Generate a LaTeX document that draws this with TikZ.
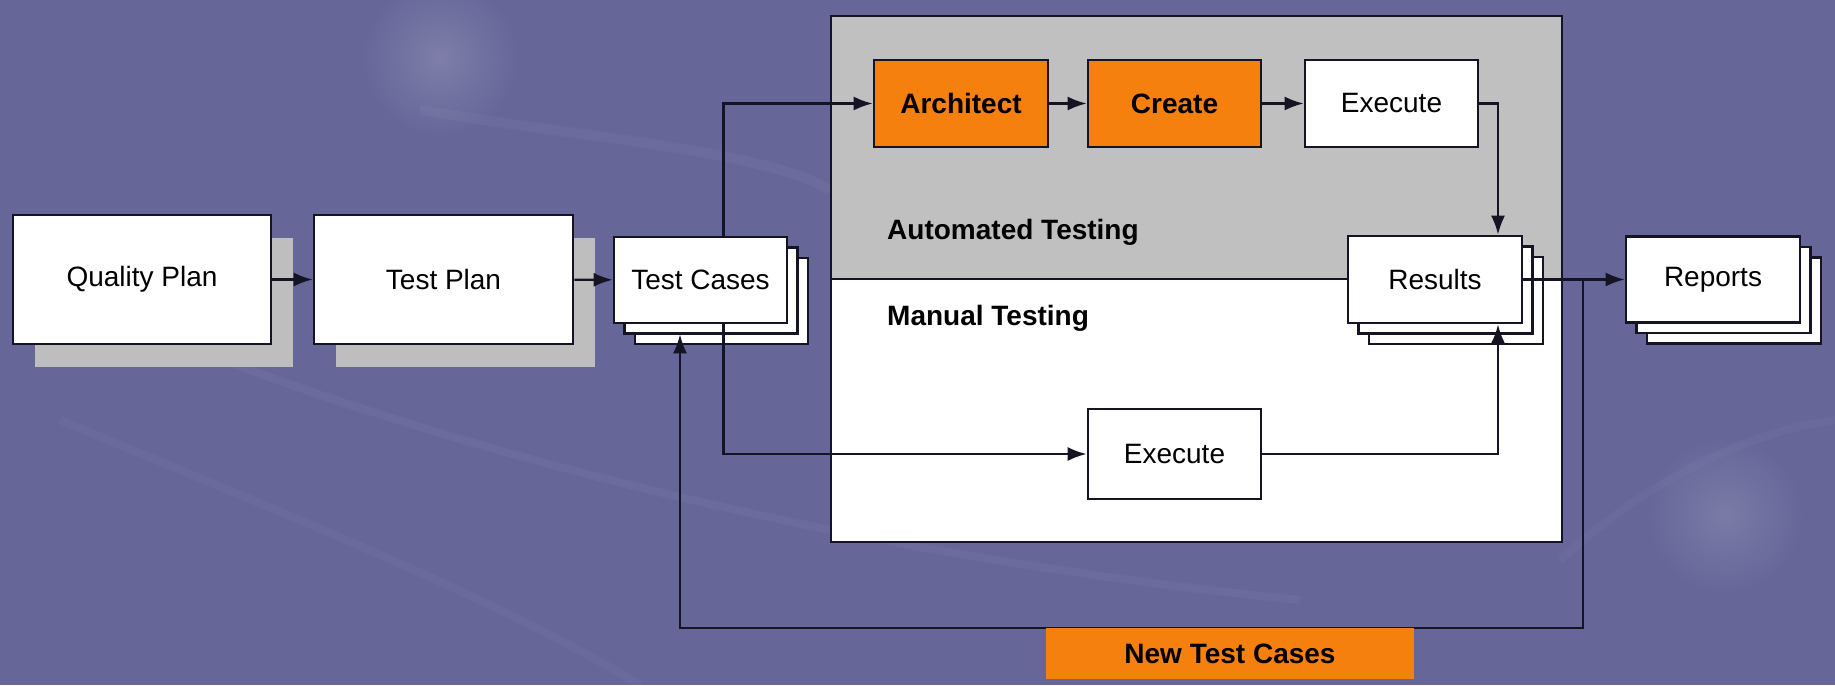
\documentclass[tikz,border=0pt]{standalone}
\usepackage{fontspec}
\setmainfont{Liberation Sans}
\usetikzlibrary{arrows.meta,shadows}
\definecolor{bgblue}{RGB}{102,102,153}
\definecolor{panelgray}{RGB}{192,192,192}
\definecolor{shgray}{RGB}{190,190,190}
\definecolor{hiorange}{RGB}{246,128,14}
\definecolor{linec}{RGB}{20,20,36}
\newcommand{\lbl}{\fontsize{28}{32}\selectfont}
\tikzset{
  box/.style={draw=linec, line width=2.6pt, fill=white, inner sep=0pt,
    font=\lbl, text=black},
  hot/.style={box, fill=hiorange, font=\lbl\bfseries},
  flat/.style={general shadow={fill=shgray, shadow xshift=22pt, shadow yshift=-23pt}},
  stack/.style={
    copy shadow={shadow xshift=21pt, shadow yshift=-21pt, draw=linec, line width=2.6pt, fill=white},
    copy shadow={shadow xshift=10.5pt, shadow yshift=-10.5pt, draw=linec, line width=2.6pt, fill=white}},
  conn/.style={draw=linec, line width=2.4pt},
  arr/.style={conn, -{Latex[length=19pt,width=14pt]}},
  caption/.style={font=\lbl\bfseries, text=black, anchor=west, inner sep=0pt}
}
\begin{document}
\begin{tikzpicture}[x=1pt,y=-1pt]
\useasboundingbox (0,0) rectangle (1835,685);
% backdrop with soft swirls
\fill[bgblue] (0,0) rectangle (1835,685);
\shade[inner color=white, outer color=bgblue, opacity=0.16] (440,58) circle (80);
\shade[inner color=white, outer color=bgblue, opacity=0.14] (1725,515) circle (80);
\draw[white, opacity=0.035, line width=10pt] (420,110) .. controls (600,140) and (760,150) .. (830,190);
\draw[white, opacity=0.035, line width=8pt] (170,340) .. controls (500,470) and (900,560) .. (1300,600);
\draw[white, opacity=0.03, line width=8pt] (60,420) .. controls (300,520) and (500,600) .. (640,685);
\draw[white, opacity=0.03, line width=8pt] (1560,560) .. controls (1660,470) and (1760,430) .. (1835,420);

% testing panel: automated (top) and manual (bottom)
\coordinate (pTL) at (831,16);
\coordinate (pMR) at (1562,279);
\coordinate (pML) at (831,279);
\coordinate (pBR) at (1562,542);
\fill[panelgray] (pTL) rectangle (pMR);
\fill[white] (pML) rectangle (pBR);
\draw[conn] (pTL) rectangle (pBR);
\draw[conn] (pML) -- (pMR);
\node[caption] (auto) at (887,232) {Automated Testing};
\node[caption] (manual) at (887,318) {Manual Testing};

% nodes
\node[box, flat, minimum width=258pt, minimum height=129pt] (qp) at (142,279.5) {Quality Plan};
\node[box, flat, minimum width=259pt, minimum height=129pt] (tp) at (443.5,279.5) {Test Plan};
\node[box, stack, minimum width=173pt, minimum height=86pt] (tc) at (700.5,280) {Test Cases};
\node[hot, minimum width=174pt, minimum height=87pt] (arch) at (961,103.5) {Architect};
\node[hot, minimum width=173pt, minimum height=87pt] (create) at (1174.5,103.5) {Create};
\node[box, minimum width=173pt, minimum height=87pt] (exA) at (1391.5,103.5) {Execute};
\node[box, minimum width=173pt, minimum height=90pt] (exM) at (1174.5,454) {Execute};
\node[box, stack, minimum width=174pt, minimum height=87pt] (res) at (1435,279.5) {Results};
\node[box, stack, minimum width=174pt, minimum height=86pt] (rep) at (1713,279.5) {Reports};

% connectors
\draw[arr] (qp) -- (tp);
\draw[arr] (tp) -- (tc);
\draw[arr] ([xshift=23pt]tc.north) |- (arch.west);
\draw[arr] (arch) -- (create);
\draw[arr] (create) -- (exA);
\draw[arr] (exA.east) -| ([xshift=63pt]res.north);
\draw[arr] ([xshift=23pt]tc.south) |- (exM.west);
\draw[arr] (exM.east) -| ([xshift=63pt]res.south);
\draw[arr] (res) -- (rep);
\coordinate (split) at (1583,279.5);
\coordinate (loopR) at (1583,628);
\draw[arr] (split) -- (loopR) -| ([xshift=-20.5pt,yshift=-10pt]tc.south);

\node[fill=hiorange, inner sep=0pt, minimum width=368pt, minimum height=51pt,
  font=\lbl\bfseries, text=black] (ntc) at (1230,653.5) {New Test Cases};
\end{tikzpicture}
\end{document}
